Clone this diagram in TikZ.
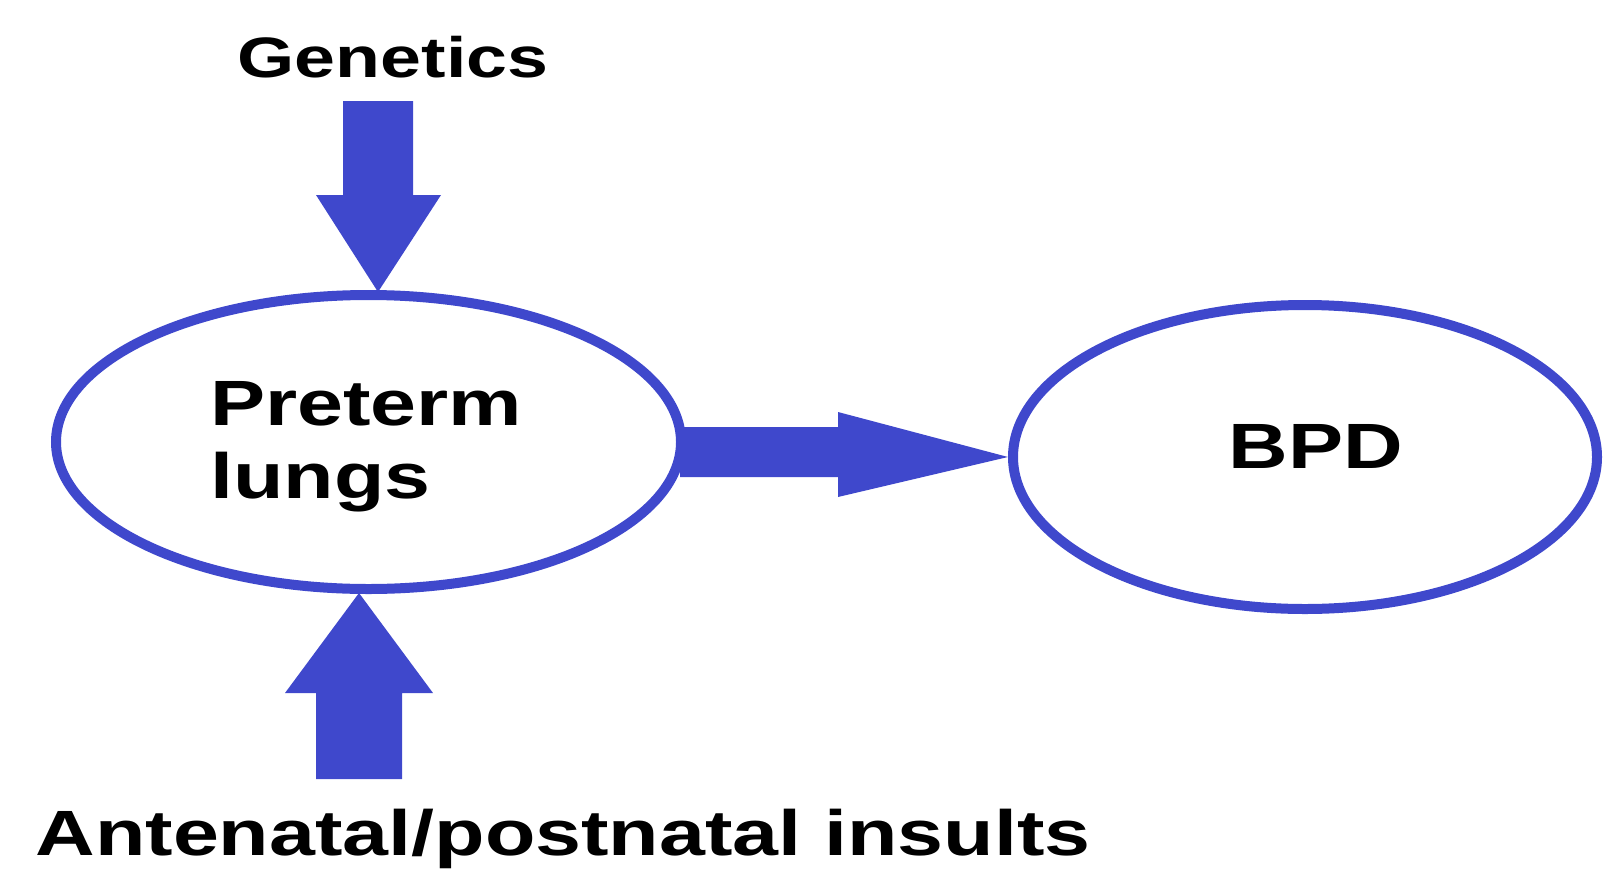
\documentclass[tikz,border=0pt]{standalone}
\usepackage{fontspec}
\newfontfamily\lab{Liberation Sans}[FakeStretch=1.29]
\usetikzlibrary{shapes.geometric}
\definecolor{ablue}{HTML}{3F48CC}
\tikzset{
  oval/.style={ellipse, draw=ablue, line width=10pt, inner sep=0pt},
  blockarrow/.style={fill=ablue, draw=none},
  bigtxt/.style={inner sep=0pt, font=\lab\bfseries\fontsize{64}{72}\selectfont},
  midtxt/.style={inner sep=0pt, font=\lab\bfseries\fontsize{57}{66}\selectfont}
}
\begin{document}
\begin{tikzpicture}[x=1pt,y=-1pt]
\useasboundingbox (0,0) rectangle (1605,870);
\node[oval, minimum width=625pt, minimum height=294pt] (pre) at (368.5,442) {};
\node[oval, minimum width=584pt, minimum height=304pt] (bpd) at (1305,457) {};
\node[midtxt, anchor=base] (gen) at (393,77) {Genetics};
\node[bigtxt, anchor=base west] (pt1) at (210,425) {Preterm};
\node[bigtxt, anchor=base west] (pt2) at (210,498) {lungs};
\node[bigtxt, anchor=base] (bt) at (1316,468) {BPD};
\node[bigtxt, anchor=base] (ins) at (563,855) {Antenatal/postnatal insults};
% down arrow
\coordinate (dtip) at (378,292);
\fill[blockarrow] (343,101) -- (413,101) -- (413,195) -- (441,195) -- (dtip) -- (316,195) -- (343,195) -- cycle;
% right arrow
\coordinate (rtip) at (bpd.west);
\fill[blockarrow] (680,427) -- (838,427) -- (838,412) -- (rtip) -- (838,497) -- (838,477) -- (680,477) -- cycle;
% up arrow
\coordinate (utip) at (359,593);
\fill[blockarrow] (316,779) -- (402,779) -- (402,693) -- (433,693) -- (utip) -- (285,693) -- (316,693) -- cycle;
\end{tikzpicture}
\end{document}
